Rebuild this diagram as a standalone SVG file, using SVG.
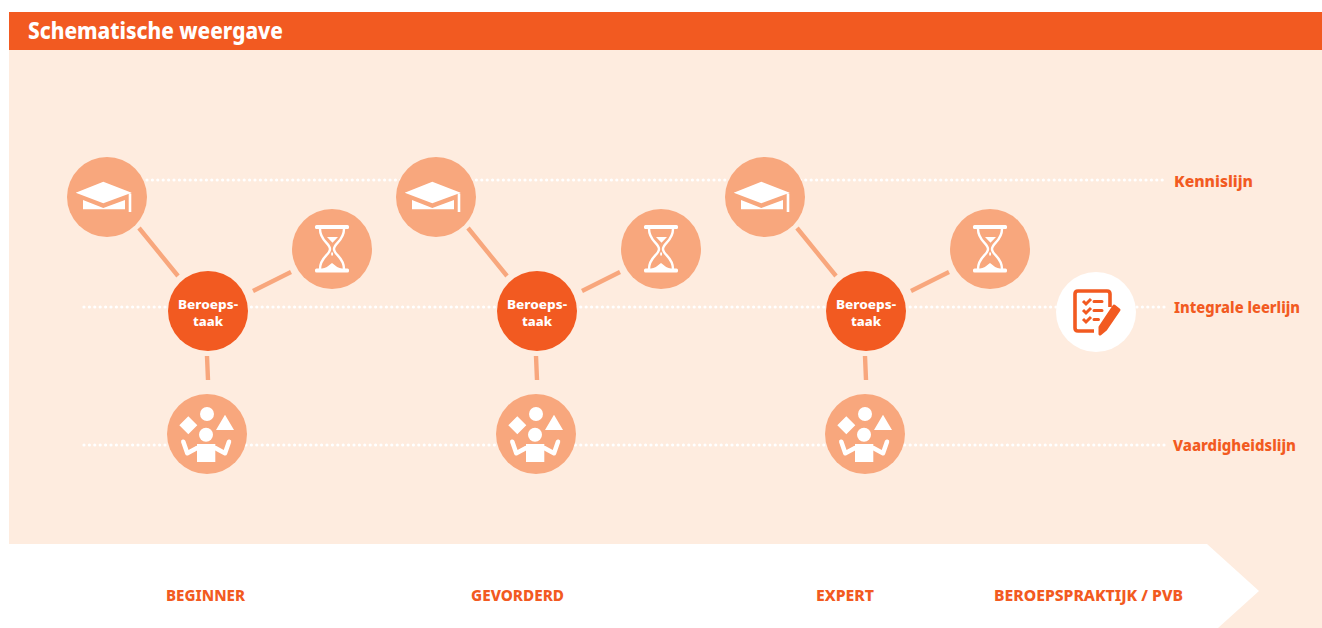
<svg xmlns="http://www.w3.org/2000/svg" width="1322" height="628" viewBox="0 0 1322 628">
<style>
text{font-family:"Noto Sans","Liberation Sans",sans-serif;font-weight:800;fill:#F25A21}
.lab{font-size:15.5px}
.stage{font-size:15px}
.tk{font-size:13px;fill:#fff;text-anchor:middle}
.w{fill:#fff}
.dot{stroke:#fff;stroke-width:3.2;stroke-dasharray:0 5.4;stroke-linecap:round;fill:none}
.con{stroke:#F8A77D;stroke-width:4.4;fill:none}
.mid{fill:#F8A77D}
</style>
<defs>
<g id="cap"><circle r="40" class="mid"/><path class="w" d="M-3.700-15.300-31.300-4.300-3.700 6.300 24.700-4.300ZM-24 3-3.700 11 18 3V12.300H-24ZM21.700-3.500H24.300V15H21.700Z"/></g>
<g id="glass"><circle r="40" class="mid"/><rect x="-17" y="-24" width="34" height="4" rx="1.500" class="w"/><rect x="-17" y="19.500" width="34" height="4" rx="1.500" class="w"/><path d="M-12-20C-12-8-2-6-2 0-2 6-12 8-12 20M12-20C12-8 2-6 2 0 2 6 12 8 12 20" fill="none" stroke="#fff" stroke-width="2.400"/><path class="w" d="M-5-12H6L.5-6.300ZM-10 20Q-4 18 0 14 4 18 10 20Z"/><rect x="-.8" y="3.500" width="1.800" height="3" class="w"/></g>
<g id="skill"><circle r="40" class="mid"/><circle cy="-20" r="7" class="w"/><path class="w" d="M-18.700-17.700-9.700-8.700-18.700.3-27.700-8.700ZM18-19.300 27-4H9Z"/><circle cx="-1" cy=".7" r="7" class="w"/><rect x="-10" y="10" width="18.300" height="18" class="w"/><path d="M-23.700 7.700-19.700 19.300-10 14M22 7.700 18 19.300 8.300 14" fill="none" stroke="#fff" stroke-width="4.500" stroke-linecap="round" stroke-linejoin="round"/></g>
</defs>
<rect x="9" y="50" width="1313" height="578" fill="#FEECDF"/>
<rect x="9" y="12" width="1313" height="38" fill="#F25A21"/>
<text x="28" y="39" font-size="23.500" textLength="255" lengthAdjust="spacingAndGlyphs" style="fill:#fff">Schematische weergave</text>
<polygon points="9,544 1207,544 1259,591 1218,628 9,628" fill="#fff"/>
<g id="connectors">
<path class="dot" d="M147 180H1165M84 307H1165M84 445H1165"/>
<path class="con" d="M139 228 178 276M253 291 291 272M207 356 208 380M468 228 507 276M582 291 620 272M536 356 537 380M797 228 836 276M911 291 949 272M865 356 866 380"/>
</g>
<g id="cap1"><use href="#cap" x="107" y="197"/></g>
<g id="glass1"><use href="#glass" x="332" y="249"/></g>
<g id="task1"><circle cx="208" cy="311" r="40" fill="#F25A21"/><text class="tk" x="208" y="309" textLength="60" lengthAdjust="spacingAndGlyphs">Beroeps-</text><text class="tk" x="208" y="326" textLength="30" lengthAdjust="spacingAndGlyphs">taak</text></g>
<g id="skill1"><use href="#skill" x="207" y="434"/></g>
<g id="cap2"><use href="#cap" x="436" y="197"/></g>
<g id="glass2"><use href="#glass" x="661" y="249"/></g>
<g id="task2"><circle cx="537" cy="311" r="40" fill="#F25A21"/><text class="tk" x="537" y="309" textLength="60" lengthAdjust="spacingAndGlyphs">Beroeps-</text><text class="tk" x="537" y="326" textLength="30" lengthAdjust="spacingAndGlyphs">taak</text></g>
<g id="skill2"><use href="#skill" x="536" y="434"/></g>
<g id="cap3"><use href="#cap" x="765" y="197"/></g>
<g id="glass3"><use href="#glass" x="990" y="249"/></g>
<g id="task3"><circle cx="866" cy="311" r="40" fill="#F25A21"/><text class="tk" x="866" y="309" textLength="60" lengthAdjust="spacingAndGlyphs">Beroeps-</text><text class="tk" x="866" y="326" textLength="30" lengthAdjust="spacingAndGlyphs">taak</text></g>
<g id="skill3"><use href="#skill" x="865" y="434"/></g>
<g id="exam" transform="translate(1096 312)"><circle r="40" fill="#fff"/>
<path d="M14-5V-18Q14-21 11-21H-18Q-21-21-21-18V16Q-21 19-18 19H-2" fill="none" stroke="#F25A21" stroke-width="3.600"/>
<path d="M-13-11-10-8-5-13M-13-2-10 1-5-4M-13 7-10 10-5 5" fill="none" stroke="#F25A21" stroke-width="3"/>
<path d="M-2-10.500H6M-2-1.500H6M-2 7.500H2.500" fill="none" stroke="#F25A21" stroke-width="3" stroke-linecap="round"/>
<path d="M18-6 23-2 10 17 4 22 4 15Z" fill="#F25A21" stroke="#F25A21" stroke-width="3" stroke-linejoin="round"/></g>
<text class="lab" x="1174" y="187" textLength="79" lengthAdjust="spacingAndGlyphs">Kennislijn</text>
<text class="lab" x="1174" y="313" textLength="126" lengthAdjust="spacingAndGlyphs">Integrale leerlijn</text>
<text class="lab" x="1173" y="451" textLength="123" lengthAdjust="spacingAndGlyphs">Vaardigheidslijn</text>
<text class="stage" x="166" y="600.500" textLength="79" lengthAdjust="spacingAndGlyphs">BEGINNER</text>
<text class="stage" x="471" y="600.500" textLength="93" lengthAdjust="spacingAndGlyphs">GEVORDERD</text>
<text class="stage" x="816" y="600.500" textLength="58" lengthAdjust="spacingAndGlyphs">EXPERT</text>
<text class="stage" x="994" y="600.500" textLength="189" lengthAdjust="spacingAndGlyphs">BEROEPSPRAKTIJK / PVB</text>
</svg>
